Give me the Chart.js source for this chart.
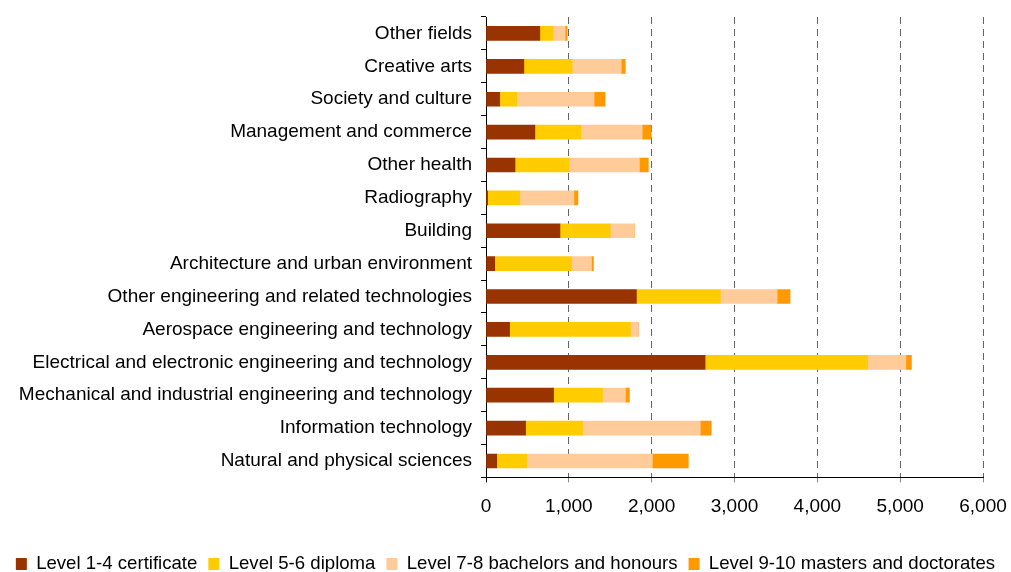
<!DOCTYPE html>
<html>
<head>
<meta charset="utf-8">
<script src="https://cdn.jsdelivr.net/npm/chart.js@4"></script>
<style>
  html, body { margin: 0; padding: 0; background: #fff; }
  #wrap { width: 1011px; height: 572px; }
</style>
</head>
<body>
<div id="wrap"><canvas id="fieldsChart"></canvas></div>
<script>
// Categories, top to bottom
const categories = [
    'Other fields',
    'Creative arts',
    'Society and culture',
    'Management and commerce',
    'Other health',
    'Radiography',
    'Building',
    'Architecture and urban environment',
    'Other engineering and related technologies',
    'Aerospace engineering and technology',
    'Electrical and electronic engineering and technology',
    'Mechanical and industrial engineering and technology',
    'Information technology',
    'Natural and physical sciences'
];

const certificate = [650, 457, 166, 590, 350, 20, 893, 105, 1816, 285, 2645, 816, 478, 129];
const diploma     = [160, 582, 206, 557, 654, 388, 606, 928, 1012, 1458, 1962, 590, 687, 361];
const bachelors   = [145, 594, 933, 739, 848, 654, 291, 240, 687, 96, 462, 277, 1422, 1518];
const masters     = [25, 48, 133, 109, 108, 48, 0, 24, 156, 0, 67, 48, 132, 434];

const seriesNames = [
    'Level 1-4 certificate',
    'Level 5-6 diploma',
    'Level 7-8 bachelors and honours',
    'Level 9-10 masters and doctorates'
];
const seriesColors = ['#993300', '#FFCC00', '#FFCC99', '#FF9900'];

const xTicks = [0, 1000, 2000, 3000, 4000, 5000, 6000];

Chart.defaults.font.family = '"Liberation Sans", Arial, sans-serif';
Chart.defaults.font.size = 19;
Chart.defaults.color = '#000';

const datasets = [certificate, diploma, bachelors, masters].map((values, i) => ({
    label: seriesNames[i],
    data: values,
    backgroundColor: seriesColors[i],
    borderWidth: 0,
    barThickness: 14
}));

const ctx = document.getElementById('fieldsChart').getContext('2d');
new Chart(ctx, {
    type: 'bar',
    data: { labels: categories, datasets: datasets },
    options: {
        indexAxis: 'y',
        responsive: true,
        maintainAspectRatio: false,
        animation: false,
        layout: { padding: { top: 17, right: 0, left: 0, bottom: 0 } },
        scales: {
            x: {
                stacked: true,
                min: 0,
                max: 6000,
                afterBuildTicks: (scale) => { scale.ticks = xTicks.map(v => ({ value: v })); },
                afterFit: (scale) => {
                    scale.height = 55;
                    scale.paddingRight = 28;
                    scale.paddingLeft = 0;
                },
                border: { display: true, color: '#000', width: 1, dash: [7, 5] },
                grid: {
                    color: (c) => c.tick && c.tick.value === 0 ? 'rgba(0,0,0,0)' : '#666',
                    tickColor: (c) => c.tick && c.tick.value === 0 ? '#000' : '#888',
                    tickLength: 5,
                    lineWidth: 1,
                    tickBorderDash: [],
                    drawTicks: true
                },
                ticks: {
                    padding: 13,
                    callback: (v) => Number(v).toLocaleString('en-US')
                }
            },
            y: {
                stacked: true,
                afterFit: (scale) => {
                    scale.width = 486;
                    scale.paddingTop = 0;
                    scale.paddingBottom = 0;
                },
                border: { display: true, color: '#000', width: 1 },
                grid: {
                    offset: true,
                    drawOnChartArea: false,
                    drawTicks: true,
                    tickLength: 5,
                    tickColor: '#000'
                },
                ticks: { padding: 9 }
            }
        },
        plugins: {
            legend: {
                position: 'bottom',
                labels: {
                    boxWidth: 11,
                    boxHeight: 12,
                    padding: 11,
                    color: '#000',
                    font: { size: 18.6 }
                }
            },
            tooltip: { enabled: false }
        }
    },
    plugins: [{
        // push the legend down close to the bottom edge
        id: 'legendShift',
        afterLayout(chart) {
            const lg = chart.legend;
            const shift = 564 - (lg.top + 11 + 9.3);
            lg.top += shift;
            lg.bottom += shift;
        }
    }]
});
</script>
</body>
</html>
